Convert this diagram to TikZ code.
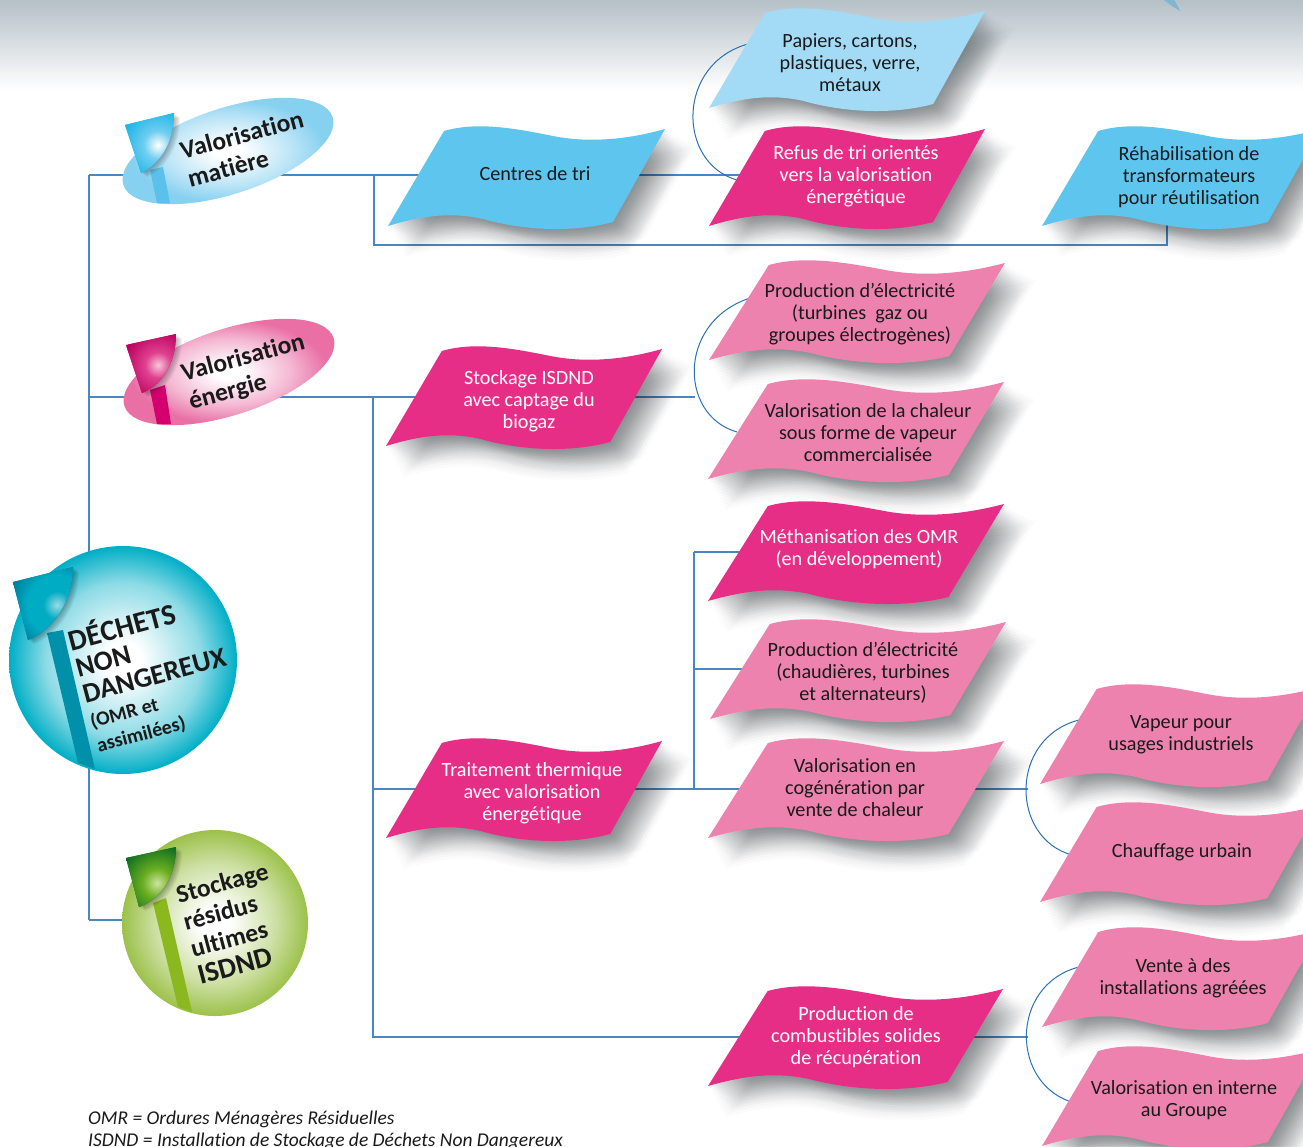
\documentclass[tikz,border=0pt]{standalone}
\usepackage{fontspec}
\setmainfont[Ligatures=NoCommon]{Carlito}
\usetikzlibrary{shapes.geometric,calc}
\definecolor{pinkd}{HTML}{E62E87}
\definecolor{pinkl}{HTML}{EE82AE}
\definecolor{blued}{HTML}{5EC5EE}
\definecolor{bluel}{HTML}{A3DAF5}
\definecolor{linec}{HTML}{4A86BF}
\definecolor{arcc}{HTML}{2A72B0}
\definecolor{ink}{HTML}{1A1A1A}
\definecolor{topg}{HTML}{B5C0C7}
\definecolor{tickc}{HTML}{7FB6D4}
\definecolor{shadowc}{HTML}{1C262B}
\definecolor{ecyan}{HTML}{00AEC6}
\definecolor{eblue}{HTML}{86D0F0}
\definecolor{epink}{HTML}{E96FA5}
\definecolor{egreen}{HTML}{9CC14A}
\colorlet{ecyanm}{ecyan!45!white}
\colorlet{ebluem}{eblue!55!white}
\colorlet{epinkm}{epink!50!white}
\colorlet{egreenm}{egreen!50!white}
\pgfdeclareradialshading{ballcyan}{\pgfpointorigin}{color(0bp)=(white);color(4bp)=(white);color(17bp)=(ecyanm);color(25bp)=(ecyan);color(50bp)=(ecyan)}
\pgfdeclareradialshading{ballblue}{\pgfpointorigin}{color(0bp)=(white);color(3bp)=(white);color(14bp)=(ebluem);color(22bp)=(eblue);color(50bp)=(eblue)}
\pgfdeclareradialshading{ballpink}{\pgfpointorigin}{color(0bp)=(white);color(3bp)=(white);color(14bp)=(epinkm);color(22bp)=(epink);color(50bp)=(epink)}
\pgfdeclareradialshading{ballgreen}{\pgfpointorigin}{color(0bp)=(white);color(4bp)=(white);color(16bp)=(egreenm);color(25bp)=(egreen);color(50bp)=(egreen)}
\definecolor{fca}{HTML}{9ADBE4}\definecolor{fcb}{HTML}{00ABC4}\definecolor{fcc}{HTML}{007A95}
\definecolor{fba}{HTML}{FFFFFF}\definecolor{fbb}{HTML}{6FCDF0}\definecolor{fbc}{HTML}{0FB2E6}
\definecolor{fpa}{HTML}{F7C6DC}\definecolor{fpb}{HTML}{E0408F}\definecolor{fpc}{HTML}{B8005F}
\definecolor{fga}{HTML}{CFE3A0}\definecolor{fgb}{HTML}{6BAF20}\definecolor{fgc}{HTML}{0A6A20}
\pgfdeclareradialshading{flagcyan}{\pgfpointorigin}{color(0bp)=(fca);color(7bp)=(fcb);color(15bp)=(fcb);color(25bp)=(fcc);color(50bp)=(fcc)}
\pgfdeclareradialshading{flagblue}{\pgfpointorigin}{color(0bp)=(fba);color(9bp)=(fbb);color(25bp)=(fbc);color(50bp)=(fbc)}
\pgfdeclareradialshading{flagpink}{\pgfpointorigin}{color(0bp)=(fpa);color(9bp)=(fpb);color(25bp)=(fpc);color(50bp)=(fpc)}
\pgfdeclareradialshading{flaggreen}{\pgfpointorigin}{color(0bp)=(fga);color(9bp)=(fgb);color(25bp)=(fgc);color(50bp)=(fgc)}
\pgfdeclarelayer{bglayer}\pgfdeclarelayer{connlayer}
\pgfsetlayers{bglayer,connlayer,main}
\tikzset{
  conn/.style={draw=linec,line width=1.3pt},
  arcconn/.style={draw=arcc,line width=1pt},
  softlayer/.style={fill=shadowc,opacity=.017},
  flaglayer/.style={fill=black,opacity=.05},
  wavetext/.style={align=center,font=\fontsize{20.2}{22}\selectfont,inner sep=0pt,yshift=-1pt},
  balltext/.style={align=left,rotate=15,font=\fontsize{25}{27}\selectfont\bfseries,text=ink,inner sep=0pt},
  ballshape/.style={inner sep=0pt,outer sep=0pt,draw=none},
  notetext/.style={anchor=base west,font=\fontsize{19.5}{22}\selectfont\itshape,text=ink,inner sep=0pt},
}
\newcommand{\wavepath}{(56,-95) .. controls (90,-105) and (130,-97) .. (165,-90) .. controls (205,-82) and (245,-88) .. (277,-97) -- (225,-4) .. controls (180,8) and (130,3) .. (95,-7) .. controls (60,-15) and (30,-9) .. (0,0) -- cycle}
\newcommand{\wave}[9]{%
  \foreach \k in {2,4,...,24} {
    \foreach \mx/\my in {1/1,1.3/.7,.7/1.3} {
      \begin{scope}[shift={(#2+\k*\mx,#3+\k*\my)},xscale=#4/277]
        \path[softlayer] \wavepath;
      \end{scope}
    }
  }
  \begin{scope}[shift={(#2,#3)},xscale=#4/277]
    \fill[#5] \wavepath;
  \end{scope}
  \node[wavetext,text=#6] (#1) at (#7,#8) {#9};
}
\newcommand{\flagshape}[9]{%
  \foreach \k in {1,2,...,6}
    \path[flaglayer,shift={(\k,.7*\k)}] #1 -- #2 .. controls #3 and #4 .. #5 -- cycle;
  \fill[#9] #1 -- #2 .. controls #3 and #4 .. #5 -- cycle;
  \begin{scope}
    \clip #1 -- #2 .. controls #3 and #4 .. #5 -- cycle;
    \shade[shading=#8] #6 circle (#7);
  \end{scope}
}
\begin{document}
\begin{tikzpicture}[x=1pt,y=-1pt]
\useasboundingbox (0,0) rectangle (1303,1146);
\begin{pgfonlayer}{bglayer}
  \fill[white] (0,0) rectangle (1303,1146);
  \shade[top color=topg,bottom color=white] (0,0) rectangle (1303,90);
  \fill[tickc] (1164,0) .. controls (1170,5) and (1175,8) .. (1180,11) .. controls (1178,6) and (1176,3) .. (1174,0) -- cycle;
\end{pgfonlayer}

% Balls
\node[ballshape,circle,minimum size=228pt,shading=ballcyan] (root) at (123,660) {};
\fill[fill={rgb,255:red,0;green,144;blue,170}] (47,633) -- (63,630) -- (95,769) -- (78,763) -- cycle;
\flagshape{(13,582)}{(73,567)}{(73,603)}{(52,630)}{(28,640)}{(57,605)}{50}{flagcyan}{fcc}
\node[balltext,anchor=north west,font=\fontsize{28}{27}\selectfont\bfseries] (roott) at (65,627) {{\fontsize{29.5}{27}\selectfont D\'ECHETS}\\NON\\DANGEREUX\\[-1pt]{\fontsize{20}{21}\selectfont (OMR et}\\[-2pt]{\fontsize{20}{21}\selectfont assimil\'ees)}};

\node[ballshape,ellipse,rotate=18,minimum width=220pt,minimum height=86pt,shading=ballblue] (matiere) at (228,151) {};
\fill[fill={rgb,255:red,91;green,192;blue,234}] (150,170) -- (163,167) -- (170,203) -- (157,203) -- cycle;
\flagshape{(125,125)}{(174,113)}{(174,145)}{(158,165)}{(141,173)}{(158,145)}{40}{flagblue}{fbc}
\node[balltext,anchor=north west,font=\fontsize{25.5}{29}\selectfont\bfseries] (matieret) at (178,142) {Valorisation\\matière};

\node[ballshape,ellipse,rotate=18,minimum width=220pt,minimum height=86pt,shading=ballpink] (energie) at (229,372) {};
\fill[fill={rgb,255:red,212;green,0;blue,111}] (150,390) -- (165,385) -- (171,424) -- (157,424) -- cycle;
\flagshape{(126,345)}{(176,334)}{(176,365)}{(160,386)}{(142,393)}{(158,365)}{36}{flagpink}{fpc}
\node[balltext,anchor=north west,font=\fontsize{25.5}{29}\selectfont\bfseries] (energiet) at (179,364) {Valorisation\\énergie};

\node[ballshape,circle,minimum size=186pt,shading=ballgreen] (green) at (215,923) {};
\fill[fill={rgb,255:red,138;green,184;blue,30}] (153,903) -- (166,898) -- (192,1012) -- (178,1007) -- cycle;
\flagshape{(126,858)}{(176,847)}{(176,880)}{(158,900)}{(139,907)}{(157,883)}{40}{flaggreen}{fgc}
\node[balltext,anchor=north west,font=\fontsize{25.5}{28}\selectfont\bfseries] (greent) at (174,886) {Stockage\\résidus\\ultimes\\{\fontsize{28.5}{28}\selectfont ISDND}};

% Waves
\wave{papiers}{709}{108}{276}{bluel}{ink}{850}{62}{Papiers, cartons,\\plastiques, verre,\\métaux}
\wave{refus}{709}{226}{276}{pinkd}{white}{856}{175}{Refus de tri orientés\\vers la valorisation\\énergétique}
\wave{centres}{388}{226}{277}{blued}{ink}{535}{173}{Centres de tri}
\wave{rehab}{1042}{226}{278}{blued}{ink}{1189}{176}{Réhabilisation de\\transformateurs\\pour réutilisation}
\wave{prod}{709}{360}{296}{pinkl}{ink}{860}{313}{Production d’électricité\\(turbines\ \ gaz ou\\groupes électrogènes)}
\wave{chaleur}{708}{479}{296}{pinkl}{ink}{868}{432}{Valorisation de la chaleur\\sous forme de vapeur\\commercialisée}
\wave{stockage}{386}{446}{276}{pinkd}{white}{529}{400}{Stockage ISDND\\avec captage du\\biogaz}
\wave{metha}{708}{601}{296}{pinkd}{white}{859}{548}{Méthanisation des OMR\\(en développement)}
\wave{prodb}{710}{719}{296}{pinkl}{ink}{863}{672}{Production d’électricité\\(chaudières, turbines\\et alternateurs)}
\wave{cogen}{708}{838}{296}{pinkl}{ink}{855}{787}{Valorisation en\\cogénération par\\vente de chaleur}
\wave{thermique}{386}{838}{276}{pinkd}{white}{532}{792}{Traitement thermique\\avec valorisation\\énergétique}
\wave{vapeur}{1040}{784}{280}{pinkl}{ink}{1181}{734}{Vapeur pour\\usages industriels}
\wave{chauffage}{1040}{902}{280}{pinkl}{ink}{1182}{851}{Chauffage urbain}
\wave{vente}{1042}{1027}{278}{pinkl}{ink}{1183}{977}{Vente à des\\installations agréées}
\wave{interne}{1042}{1146}{278}{pinkl}{ink}{1184}{1099}{Valorisation en interne\\au Groupe}
\wave{combust}{708}{1086}{295}{pinkd}{white}{856}{1036}{Production de\\combustibles solides\\de récupération}

% Connectors
\coordinate (jm) at (89,175);
\coordinate (je) at (89,397);
\coordinate (jg) at (89,920);
\coordinate (jc) at (374,175);
\coordinate (jd) at (374,245);
\coordinate (jh) at (1167,200);
\coordinate (jr) at (373,397);
\coordinate (js) at (373,1037);
\coordinate (jt) at (373,789);
\coordinate (jv) at (694,789);
\coordinate (ju) at (694,552);
\coordinate (jw) at (694,669);
\coordinate (ax) at (748,44);
\coordinate (ay) at (737,180);
\coordinate (bx) at (757,296);
\coordinate (by) at (737,432);
\coordinate (cx) at (1079,720);
\coordinate (cy) at (1072,855);
\coordinate (dx) at (1079,967);
\coordinate (dy) at (1075,1103);
\coordinate (bm) at (695,397);
\coordinate (cm) at (1028,789);
\coordinate (dm) at (1028,1037);
\begin{pgfonlayer}{connlayer}
  \draw[conn] (jm) -- (jg);
  \draw[conn] (jm) -- (jc) -- (jm -| centres);
  \draw[conn] (je) -- (je -| stockage);
  \draw[conn] (jg) -- (jg -| green);
  \draw[conn] (jm -| centres) -- (jm -| refus);
  \draw[conn] (jc) -- (jd) -- (jd -| jh) -- (jh);
  \draw[conn] (jr) -- (js) -- (js -| combust);
  \draw[conn] (jt) -- (jt -| thermique);
  \draw[conn] (jt -| thermique) -- (jt -| cogen);
  \draw[conn] (ju) -- (jv);
  \draw[conn] (ju) -- (ju -| metha);
  \draw[conn] (jw) -- (jw -| prodb);
  \draw[conn] (je -| stockage) -- (bm);
  \draw[conn] (jt -| cogen) -- (cm);
  \draw[conn] (js -| combust) -- (dm);
  \draw[arcconn] (ax) .. controls +(-72,20) and +(-60,-17) .. (ay);
  \draw[arcconn] (bx) .. controls +(-80,20) and +(-60,-17) .. (by);
  \draw[arcconn] (cx) .. controls +(-70,18) and +(-62,-17) .. (cy);
  \draw[arcconn] (dx) .. controls +(-70,18) and +(-65,-17) .. (dy);
\end{pgfonlayer}

\node[notetext] (note1) at (88,1124) {OMR = Ordures Ménagères Résiduelles};
\node[notetext] (note2) at (88,1146) {ISDND = Installation de Stockage de Déchets Non Dangereux};
\end{tikzpicture}
\end{document}
